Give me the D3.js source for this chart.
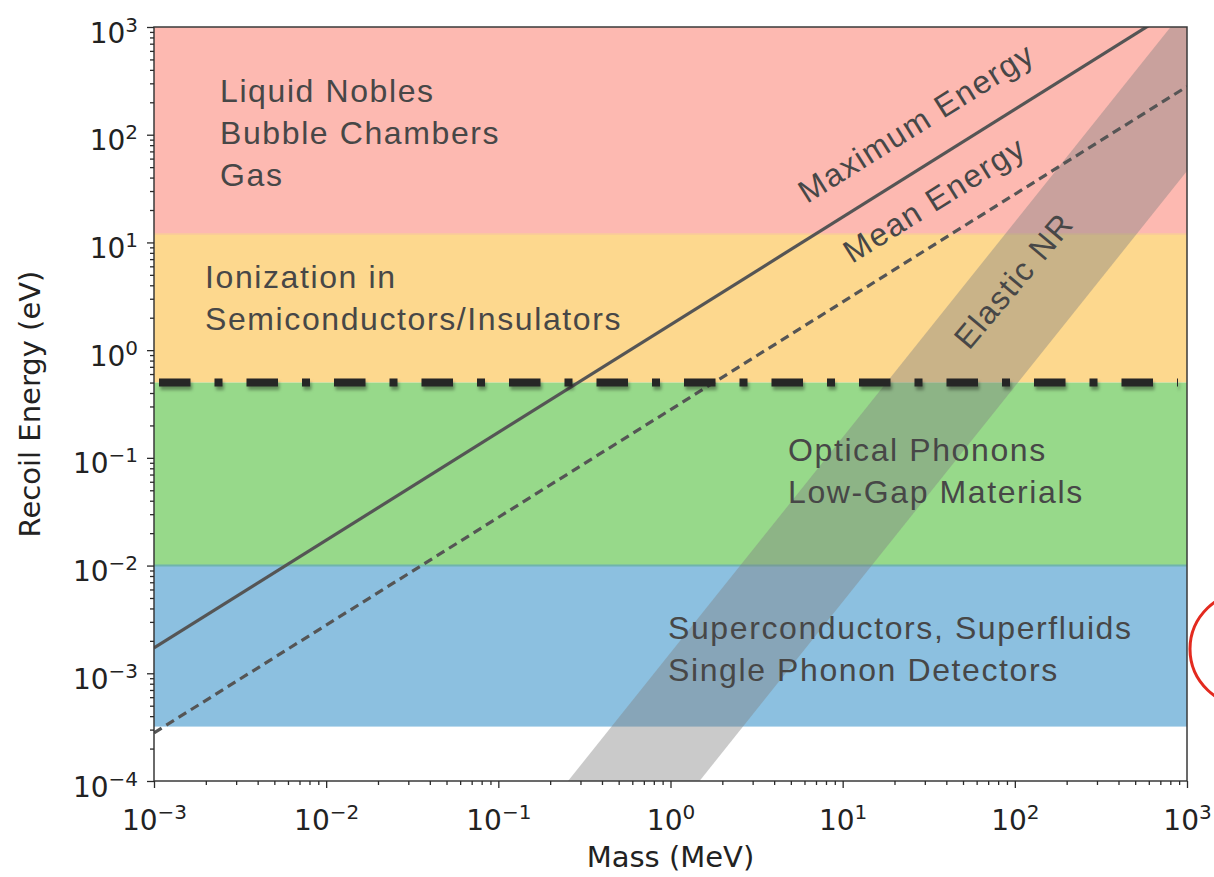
<!DOCTYPE html>
<html>
<head>
<meta charset="utf-8">
<script src="https://cdn.jsdelivr.net/npm/d3@7"></script>
<style>
  html, body { margin: 0; padding: 0; background: #fff; }
  svg { display: block; }
</style>
</head>
<body>
<svg id="chart" width="1214" height="877"></svg>
<script>
// ---- Axis ranges and tick labels (mass in MeV, recoil energy in eV) ----
const massDomain = [1e-3, 1e3];
const energyDomain = [1e-4, 1e3];
const massTicks = [1e-3, 1e-2, 1e-1, 1e0, 1e1, 1e2, 1e3];
const massTickExponents = ["\u22123", "\u22122", "\u22121", "0", "1", "2", "3"];
const energyTicks = [1e-4, 1e-3, 1e-2, 1e-1, 1e0, 1e1, 1e2, 1e3];
const energyTickExponents = ["\u22124", "\u22123", "\u22122", "\u22121", "0", "1", "2", "3"];

// ---- Detector regimes: energy bands (eV) ----
const regionLow  = [12, 0.5, 0.01, 3.2e-4];
const regionHigh = [1e3, 12, 0.5, 0.01];
const regionText = [
  ["Liquid Nobles", "Bubble Chambers", "Gas"],
  ["Ionization in", "Semiconductors/Insulators"],
  ["Optical Phonons", "Low-Gap Materials"],
  ["Superconductors, Superfluids", "Single Phonon Detectors"]
];

// ---- Electron-scattering recoil energy vs dark matter mass ----
const kinematicMass = [1e-3, 1e3];
const maxEnergy  = [1.72e-3, 1.72e3];
const meanEnergy = [2.8e-4, 2.8e2];

// ---- Elastic nuclear-recoil band (E grows as mass squared) ----
const nrMass  = [0.1, 1e3];
const nrUpper = [1.55e-5, 1.55e3];
const nrLower = [4.6e-7, 46];

// ---- Band-gap threshold (eV) ----
const gapEnergy = 0.5;

// ---------------- layout & style ----------------
const plot = { left: 154, right: 1187, top: 27, bottom: 781 };
const regionColors = ["#fdb9b1", "#fdd88e", "#97d98a", "#8cc0e0"];
const labelFont = "'Liberation Sans', Arial, Helvetica, sans-serif";
const axisFont = "'DejaVu Sans', sans-serif";
const labelColor = "#474747";
const lineColor = "#555555";

const svg = d3.select("#chart");

const x = d3.scaleLog().domain(massDomain).range([plot.left, plot.right]);
const y = d3.scaleLog().domain(energyDomain).range([plot.bottom, plot.top]);

const defs = svg.append("defs");
defs.append("clipPath").attr("id", "plot-clip")
  .append("rect")
  .attr("x", plot.left).attr("y", plot.top)
  .attr("width", plot.right - plot.left).attr("height", plot.bottom - plot.top);

// Soft drop shadow for the threshold line (user-space region: the line has zero height)
const shadow = defs.append("filter").attr("id", "line-shadow")
  .attr("filterUnits", "userSpaceOnUse")
  .attr("x", 0).attr("y", 0).attr("width", 1214).attr("height", 877);
shadow.append("feDropShadow")
  .attr("dx", 1.5).attr("dy", 3.5).attr("stdDeviation", 1.8)
  .attr("flood-color", "#000").attr("flood-opacity", 0.35);

const g = svg.append("g").attr("clip-path", "url(#plot-clip)");

// Energy bands
g.selectAll("rect.region")
  .data(regionLow.map((lo, i) => ({ lo, hi: regionHigh[i], color: regionColors[i] })))
  .join("rect")
  .attr("class", "region")
  .attr("x", x(massDomain[0]))
  .attr("width", x(massDomain[1]) - x(massDomain[0]))
  .attr("y", d => y(d.hi))
  .attr("height", d => y(d.lo) - y(d.hi))
  .attr("fill", d => d.color);

// Faint seams where neighbouring bands meet
g.append("line")
  .attr("x1", x(massDomain[0])).attr("x2", x(massDomain[1]))
  .attr("y1", y(regionLow[0])).attr("y2", y(regionLow[0]))
  .attr("stroke", "#f9c89a").attr("stroke-width", 1.5);
g.append("line")
  .attr("x1", x(massDomain[0])).attr("x2", x(massDomain[1]))
  .attr("y1", y(regionLow[2])).attr("y2", y(regionLow[2]))
  .attr("stroke", "#6fb4ad").attr("stroke-width", 2);

// Elastic NR band
const nrPoly = [
  [nrMass[0], nrUpper[0]], [nrMass[1], nrUpper[1]],
  [nrMass[1], nrLower[1]], [nrMass[0], nrLower[0]]
];
g.append("path")
  .attr("d", d3.line().x(d => x(d[0])).y(d => y(d[1]))(nrPoly) + "Z")
  .attr("fill", "#808080")
  .attr("fill-opacity", 0.42);

// Maximum and mean recoil energy lines
const line = d3.line().x(d => x(d[0])).y(d => y(d[1]));
g.append("path")
  .attr("d", line(kinematicMass.map((m, i) => [m, maxEnergy[i]])))
  .attr("fill", "none").attr("stroke", lineColor).attr("stroke-width", 3.2);
g.append("path")
  .attr("d", line(kinematicMass.map((m, i) => [m, meanEnergy[i]])))
  .attr("fill", "none").attr("stroke", lineColor).attr("stroke-width", 3.2)
  .attr("stroke-dasharray", "9,5.5");

// Band-gap threshold (dash-dot, with shadow)
svg.append("path")
  .attr("d", `M${x(massDomain[0]) + 5},${y(gapEnergy)}H${x(massDomain[1]) - 9}`)
  .attr("stroke", "#262626").attr("stroke-width", 8)
  .attr("stroke-dasharray", "31.5,24,8,24")
  .attr("filter", "url(#line-shadow)");

// Region labels
const regionLabelPos = [
  { x: 220, y: 102 }, { x: 205, y: 288 }, { x: 788, y: 461 }, { x: 668, y: 639 }
];
const lineGap = 42;
regionText.forEach((lines, i) => {
  const t = svg.append("text")
    .attr("x", regionLabelPos[i].x).attr("y", regionLabelPos[i].y)
    .attr("font-family", labelFont).attr("font-size", 32)
    .attr("letter-spacing", 1.6)
    .attr("fill", labelColor);
  lines.forEach((s, j) => {
    t.append("tspan").attr("x", regionLabelPos[i].x)
      .attr("dy", j === 0 ? 0 : lineGap).text(s);
  });
});

// Rotated curve labels
const curveLabels = [
  { text: "Maximum Energy", x: 807, y: 204, angle: -32 },
  { text: "Mean Energy", x: 852, y: 264, angle: -32 },
  { text: "Elastic NR", x: 969, y: 351, angle: -50 }
];
svg.selectAll("text.curve")
  .data(curveLabels)
  .join("text")
  .attr("class", "curve")
  .attr("transform", d => `translate(${d.x},${d.y}) rotate(${d.angle})`)
  .attr("font-family", labelFont).attr("font-size", 32)
  .attr("letter-spacing", 1.6)
  .attr("fill", labelColor)
  .text(d => d.text);

// Frame
svg.append("rect")
  .attr("x", plot.left).attr("y", plot.top)
  .attr("width", plot.right - plot.left).attr("height", plot.bottom - plot.top)
  .attr("fill", "none").attr("stroke", "#3a3a3a").attr("stroke-width", 1.5);

// Minor tick values for a log axis
function minorTicks(domain) {
  const out = [];
  const lo = Math.round(Math.log10(domain[0])), hi = Math.round(Math.log10(domain[1]));
  for (let k = lo; k < hi; k++) for (let m = 2; m <= 9; m++) out.push(m * Math.pow(10, k));
  return out;
}

// Y axis
const yAxisG = svg.append("g").attr("transform", `translate(${plot.left},0)`);
yAxisG.append("g").call(d3.axisLeft(y).tickValues(minorTicks(energyDomain)).tickSize(4).tickFormat(""));
const yMajor = yAxisG.append("g").call(d3.axisLeft(y).tickValues(energyTicks).tickSize(7).tickFormat(""));
yAxisG.selectAll(".domain").remove();
yAxisG.selectAll(".tick line").attr("stroke", "#2a2a2a").attr("stroke-width", 1.3);
yMajor.selectAll(".tick").each(function (d, i) {
  const t = d3.select(this).append("text")
    .attr("x", -16).attr("y", 15)
    .attr("text-anchor", "end")
    .attr("font-family", axisFont).attr("font-size", 28)
    .attr("fill", "#222");
  t.append("tspan").text("10");
  t.append("tspan").attr("dy", -11).attr("font-size", 20).text(energyTickExponents[i]);
});

// X axis
const xAxisG = svg.append("g").attr("transform", `translate(0,${plot.bottom})`);
xAxisG.append("g").call(d3.axisBottom(x).tickValues(minorTicks(massDomain)).tickSize(4).tickFormat(""));
const xMajor = xAxisG.append("g").call(d3.axisBottom(x).tickValues(massTicks).tickSize(7).tickFormat(""));
xAxisG.selectAll(".domain").remove();
xAxisG.selectAll(".tick line").attr("stroke", "#2a2a2a").attr("stroke-width", 1.3);
xMajor.selectAll(".tick").each(function (d, i) {
  const t = d3.select(this).append("text")
    .attr("x", 0).attr("y", 49)
    .attr("text-anchor", "middle")
    .attr("font-family", axisFont).attr("font-size", 28)
    .attr("fill", "#222");
  t.append("tspan").text("10");
  t.append("tspan").attr("dy", -11).attr("font-size", 20).text(massTickExponents[i]);
});

// Axis titles
svg.append("text")
  .attr("x", (plot.left + plot.right) / 2).attr("y", 867)
  .attr("text-anchor", "middle")
  .attr("font-family", axisFont).attr("font-size", 29)
  .attr("fill", "#222")
  .text("Mass (MeV)");
svg.append("text")
  .attr("transform", `translate(40,${(plot.top + plot.bottom) / 2}) rotate(-90)`)
  .attr("text-anchor", "middle")
  .attr("font-family", axisFont).attr("font-size", 29)
  .attr("fill", "#222")
  .text("Recoil Energy (eV)");

// Hand-drawn highlight circle at the right margin
svg.append("ellipse")
  .attr("cx", 1250).attr("cy", 649).attr("rx", 60).attr("ry", 58)
  .attr("fill", "none").attr("stroke", "#e32a1f").attr("stroke-width", 3);
</script>
</body>
</html>
